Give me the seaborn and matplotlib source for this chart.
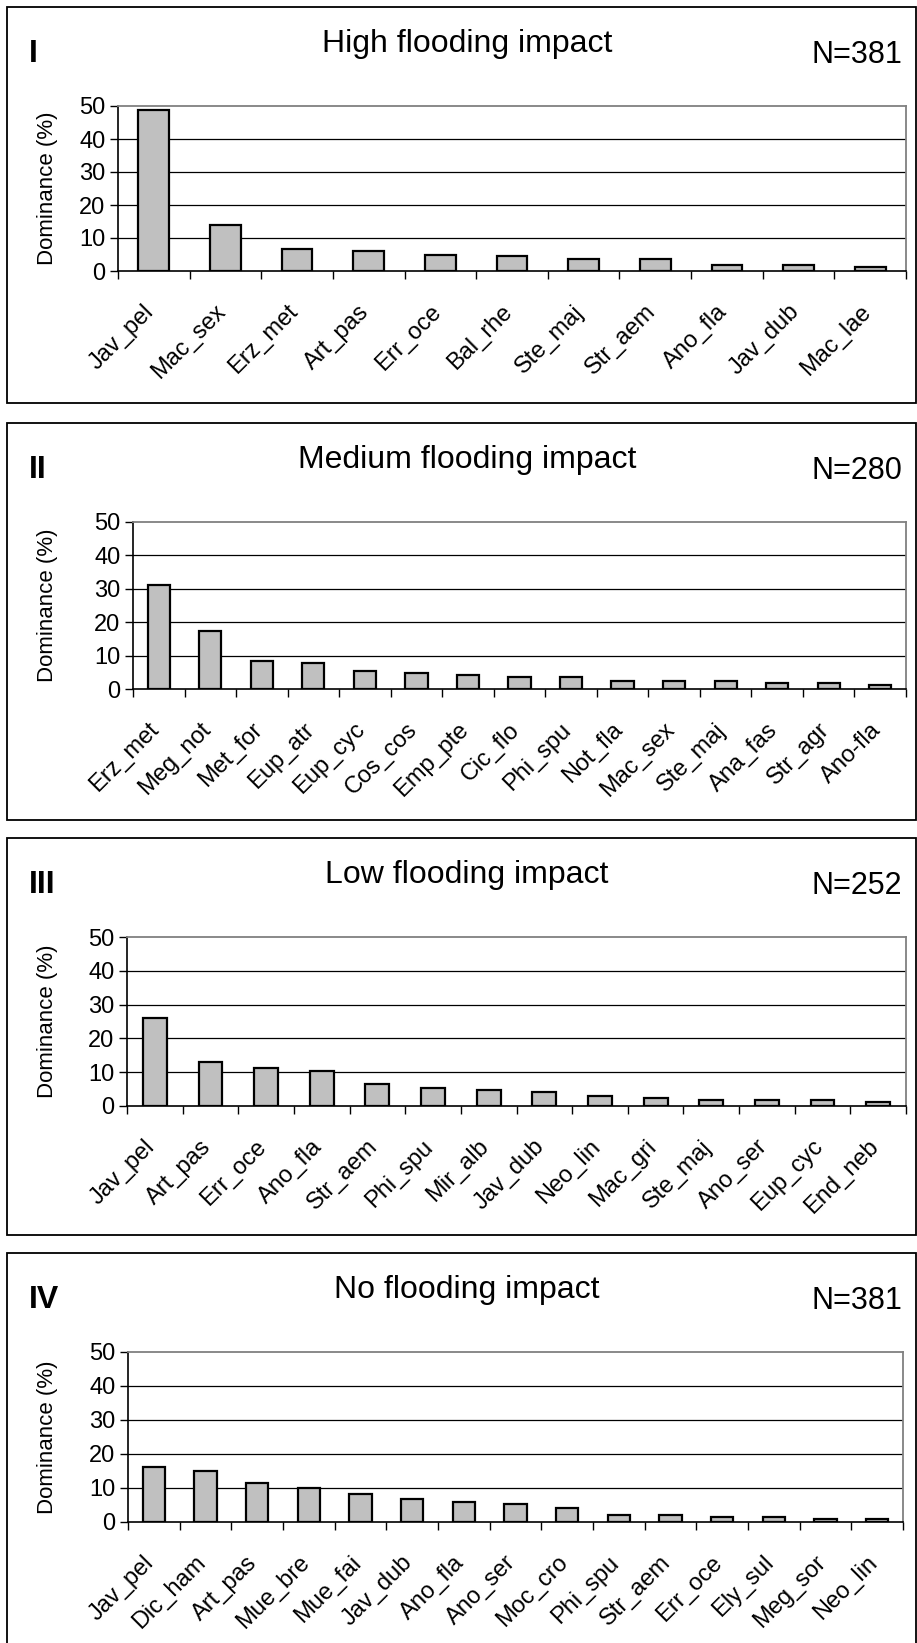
import matplotlib
matplotlib.use("Agg")
import matplotlib.pyplot as plt
import matplotlib.transforms as mtransforms
from matplotlib.patches import Rectangle
from matplotlib.ticker import FixedLocator
import seaborn as sns

sns.set_style("white")
plt.rcParams["font.family"] = ["Liberation Sans", "DejaVu Sans"]
plt.rcParams["text.color"] = "black"
plt.rcParams["axes.labelcolor"] = "black"
plt.rcParams["xtick.color"] = "black"
plt.rcParams["ytick.color"] = "black"

# ---- data -------------------------------------------------------------
high_species = ["Jav_pel", "Mac_sex", "Erz_met", "Art_pas", "Err_oce", "Bal_rhe",
                "Ste_maj", "Str_aem", "Ano_fla", "Jav_dub", "Mac_lae"]
high_values = [48.8, 14.0, 6.8, 6.2, 5.0, 4.4, 3.7, 3.7, 1.8, 1.8, 1.3]

medium_species = ["Erz_met", "Meg_not", "Met_for", "Eup_atr", "Eup_cyc", "Cos_cos",
                  "Emp_pte", "Cic_flo", "Phi_spu", "Not_fla", "Mac_sex", "Ste_maj",
                  "Ana_fas", "Str_agr", "Ano-fla"]
medium_values = [31.2, 17.3, 8.3, 7.7, 5.3, 4.7, 4.1, 3.5, 3.5, 2.3, 2.3, 2.3, 1.7, 1.7, 1.1]

low_species = ["Jav_pel", "Art_pas", "Err_oce", "Ano_fla", "Str_aem", "Phi_spu",
               "Mir_alb", "Jav_dub", "Neo_lin", "Mac_gri", "Ste_maj", "Ano_ser",
               "Eup_cyc", "End_neb"]
low_values = [26.1, 13.0, 11.2, 10.5, 6.4, 5.3, 4.6, 4.0, 2.9, 2.3, 1.7, 1.7, 1.7, 1.1]

none_species = ["Jav_pel", "Dic_ham", "Art_pas", "Mue_bre", "Mue_fai", "Jav_dub",
                "Ano_fla", "Ano_ser", "Moc_cro", "Phi_spu", "Str_aem", "Err_oce",
                "Ely_sul", "Meg_sor", "Neo_lin"]
none_values = [16.3, 15.1, 11.6, 9.9, 8.2, 6.9, 5.8, 5.2, 4.1, 2.2, 2.2, 1.6, 1.6, 1.0, 1.0]

numerals = ["I", "II", "III", "IV"]
titles = ["High flooding impact", "Medium flooding impact",
          "Low flooding impact", "No flooding impact"]
sample_sizes = [381, 280, 252, 381]
y_ticks = [0, 10, 20, 30, 40, 50]

# ---- layout (pixels) --------------------------------------------------
W, H = 917, 1643
fig = plt.figure(figsize=(W / 100, H / 100), dpi=100)
fig.patch.set_facecolor("white")


def fx(x):
    return x / W


def fy(y):
    return 1 - y / H


panels = [
    # box top, box bottom, axes left, right, top, bottom
    dict(box=(7, 403), ax=(118, 906, 106, 271)),
    dict(box=(423, 820), ax=(133, 906, 522, 689)),
    dict(box=(838, 1235), ax=(127, 906, 937, 1106)),
    dict(box=(1253, 1660), ax=(128, 903, 1352, 1522)),
]

series = [(high_species, high_values), (medium_species, medium_values),
          (low_species, low_values), (none_species, none_values)]

for i, (p, (names, vals)) in enumerate(zip(panels, series)):
    bt, bb = p["box"]
    fig.add_artist(Rectangle((fx(7), fy(bb)), fx(916) - fx(7), fy(bt) - fy(bb),
                             transform=fig.transFigure, fill=False,
                             edgecolor="black", linewidth=1.3))

    l, r, t, b = p["ax"]
    ax = fig.add_axes([fx(l), fy(b), fx(r) - fx(l), fy(t) - fy(b)])
    sns.barplot(x=names, y=vals, ax=ax, color="#C0C0C0", saturation=1,
                width=0.43, edgecolor="black", linewidth=1.6, zorder=3)

    n = len(names)
    ax.set_xlim(-0.5, n - 0.5)
    ax.set_ylim(0, 50)
    ax.set_yticks(y_ticks)
    ax.set_yticklabels([str(v) for v in y_ticks], fontsize=17)

    # horizontal grid lines between the limits
    ax.set_axisbelow(True)
    ax.yaxis.grid(True, color="black", linewidth=0.9)
    gls = ax.yaxis.get_gridlines()
    gls[0].set_visible(False)
    gls[-1].set_visible(False)

    # category boundary ticks
    ax.xaxis.set_minor_locator(FixedLocator([k - 0.5 for k in range(n + 1)]))
    ax.tick_params(axis="x", which="minor", length=6, width=1, color="black",
                   direction="out", bottom=True)
    ax.tick_params(axis="x", which="major", length=0, pad=27)
    ax.tick_params(axis="y", which="major", length=6, width=1, color="black",
                   direction="out", left=True, pad=3)

    offset = mtransforms.ScaledTranslation(-3 / 100, 0, fig.dpi_scale_trans)
    for lab in ax.get_xticklabels():
        lab.set_rotation(45)
        lab.set_ha("right")
        lab.set_va("center")
        lab.set_rotation_mode("anchor")
        lab.set_fontsize(17)
        lab.set_transform(lab.get_transform() + offset)

    ax.set_xlabel("")
    ax.set_ylabel("Dominance (%)", fontsize=16)
    ax.yaxis.set_label_coords(fx(58), 0.5,
                              transform=mtransforms.blended_transform_factory(
                                  fig.transFigure, ax.transAxes))

    for side in ["left", "bottom"]:
        ax.spines[side].set_color("black")
        ax.spines[side].set_linewidth(1.2)
    for side in ["top", "right"]:
        ax.spines[side].set_color("#808080")
        ax.spines[side].set_linewidth(1.3)

    fig.text(fx(29), fy(bt + 55), numerals[i], fontsize=23, fontweight="bold",
             ha="left", va="baseline")
    fig.text(fx(467), fy(bt + 45), titles[i], fontsize=23,
             ha="center", va="baseline")
    fig.text(fx(902), fy(bt + 56), f"N={sample_sizes[i]}", fontsize=22,
             ha="right", va="baseline")

fig.savefig("out.png", dpi=100, facecolor="white")
